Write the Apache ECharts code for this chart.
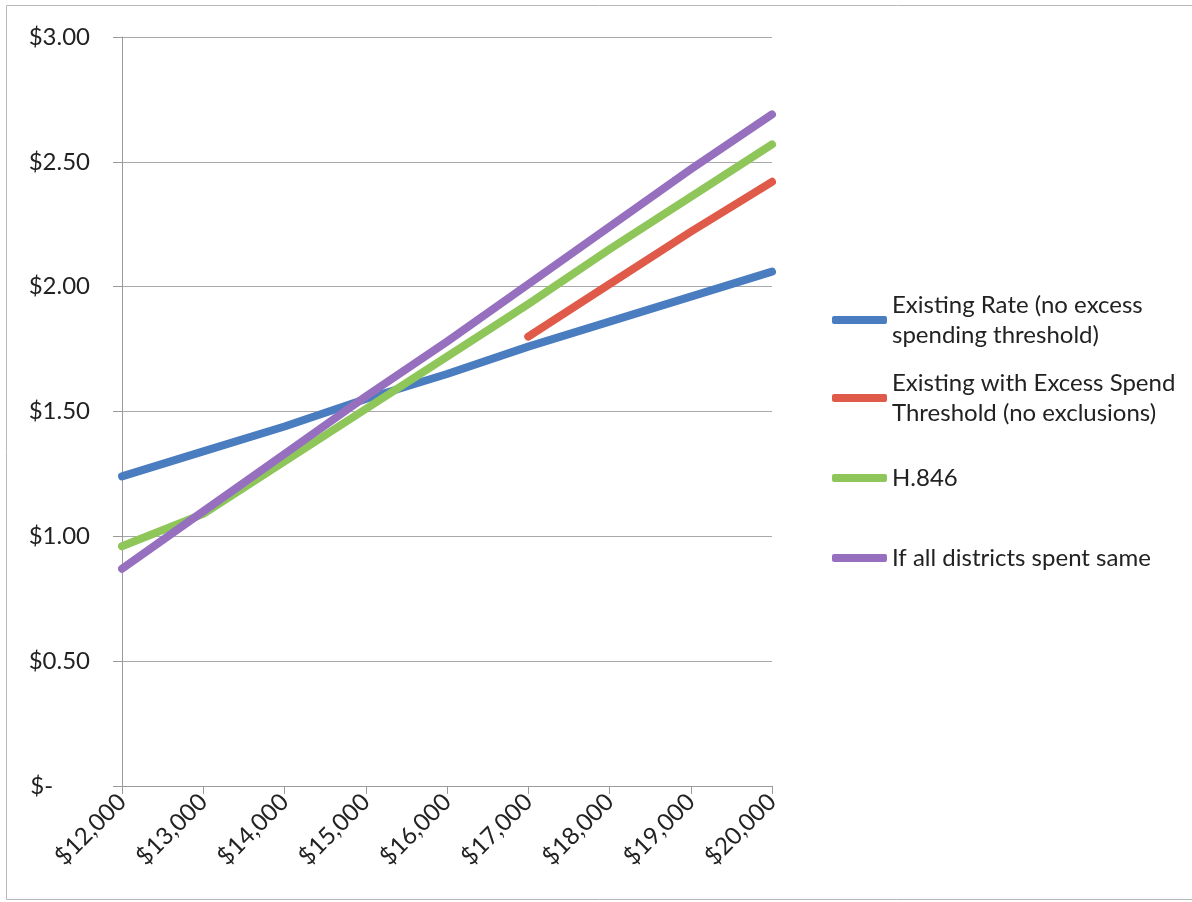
<!DOCTYPE html>
<html>
<head>
<meta charset="utf-8">
<script src="https://cdn.jsdelivr.net/npm/echarts@6/dist/echarts.min.js"></script>
<style>
html,body{margin:0;padding:0;background:#fff;}
#chart{width:1192px;height:902px;}
</style>
</head>
<body>
<div id="chart"></div>
<script>
const categories = ['$12,000','$13,000','$14,000','$15,000','$16,000','$17,000','$18,000','$19,000','$20,000'];
const existingRate = [1.24, 1.34, 1.44, 1.55, 1.65, 1.76, 1.86, 1.96, 2.06];
const excessSpend = [null, null, null, null, null, 1.80, 2.01, 2.22, 2.42];
const h846 = [0.96, 1.09, 1.30, 1.51, 1.72, 1.93, 2.15, 2.36, 2.57];
const allSame = [0.87, 1.10, 1.33, 1.56, 1.78, 2.01, 2.24, 2.47, 2.69];
const seriesNames = [
  'Existing Rate (no excess\nspending threshold)',
  'Existing with Excess Spend\nThreshold (no exclusions)',
  'H.846',
  'If all districts spent same'
];
const colors = ['#4a7cc0', '#e05a4a', '#8ec65a', '#9670bf'];

const FONT = 'Lato';
const FS = 24;
const chart = echarts.init(document.getElementById('chart'));

function mkLegend(name, top, twoLine) {
  return {
    show: true,
    orient: 'vertical',
    left: 832,
    top: top,
    padding: 0,
    itemWidth: 55,
    itemHeight: 8,
    icon: 'roundRect',
    selectedMode: false,
    data: [name],
    textStyle: {
      fontFamily: FONT, fontSize: FS, color: '#222', lineHeight: 30,
      padding: twoLine ? [30, 0, 0, 0] : 0
    }
  };
}

const seriesData = [existingRate, excessSpend, h846, allSame];

chart.setOption({
  animation: false,
  graphic: [{
    type: 'rect',
    shape: { x: 6.5, y: 5.5, width: 1200, height: 894 },
    style: { fill: 'none', stroke: '#b8b8b8', lineWidth: 1 },
    silent: true
  }],
  grid: { left: 122, right: 420, top: 37, bottom: 116 },
  legend: [
    mkLegend(seriesNames[0], 275, true),
    mkLegend(seriesNames[1], 353, true),
    mkLegend(seriesNames[2], 463, false),
    mkLegend(seriesNames[3], 543, false)
  ],
  xAxis: {
    type: 'category',
    data: categories,
    boundaryGap: false,
    axisLine: { lineStyle: { color: '#9a9a9a', width: 1 } },
    axisTick: { show: true, length: 8, lineStyle: { color: '#9a9a9a' } },
    axisLabel: {
      rotate: 45, margin: 12, fontFamily: FONT, fontSize: FS, color: '#222',
      interval: 0
    },
    splitLine: { show: false }
  },
  yAxis: {
    type: 'value',
    min: 0, max: 3, interval: 0.5,
    axisLine: { show: true, lineStyle: { color: '#9a9a9a', width: 1 } },
    axisTick: { show: true, length: 9, lineStyle: { color: '#9a9a9a' } },
    axisLabel: {
      margin: 32, fontFamily: FONT, fontSize: FS, color: '#222',
      formatter: function (v) { return v === 0 ? '$-      ' : '$' + v.toFixed(2); }
    },
    splitLine: { show: true, lineStyle: { color: '#a8a8a8', width: 1 } }
  },
  series: seriesNames.map(function (n, i) {
    return {
      name: n,
      type: 'line',
      data: seriesData[i],
      showSymbol: false,
      symbol: 'none',
      connectNulls: false,
      color: colors[i],
      lineStyle: { width: 8, color: colors[i], cap: 'round', join: 'round' },
      z: 2 + i
    };
  })
});
</script>
</body>
</html>
